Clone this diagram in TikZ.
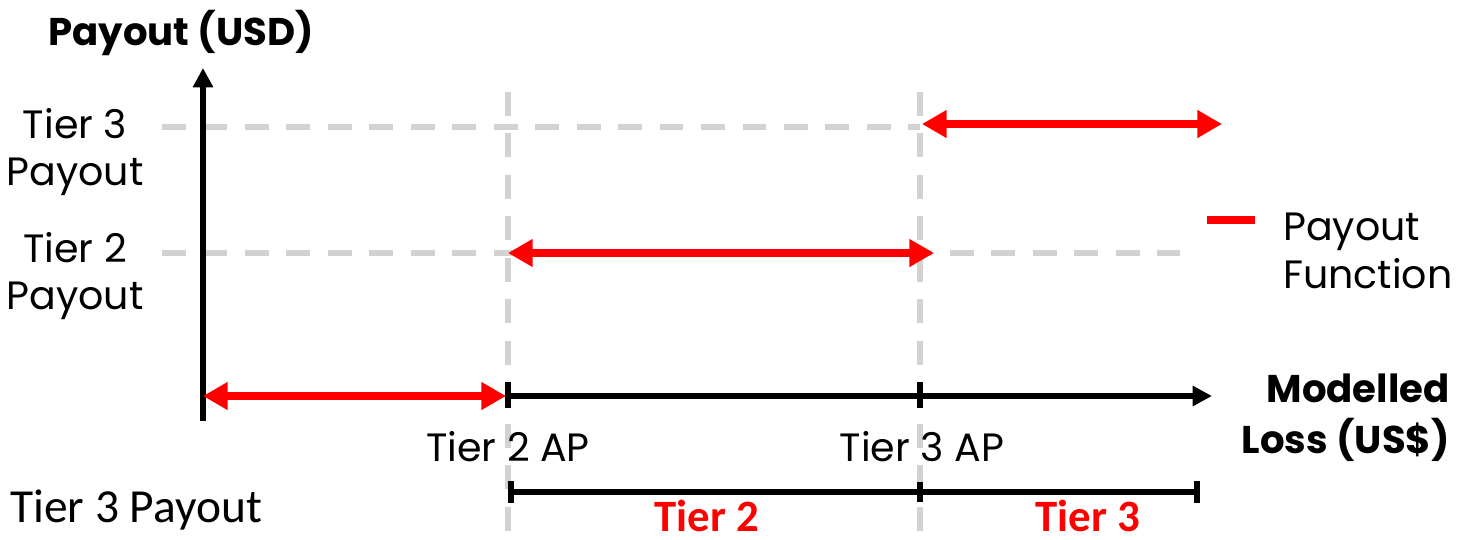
\documentclass[tikz,border=0pt]{standalone}
\usepackage{fontspec}
\setmainfont{Poppins}
\newfontfamily\calfont{Carlito}
\usetikzlibrary{arrows.meta}

\definecolor{guidegray}{RGB}{210,210,210}
\definecolor{payred}{RGB}{255,0,0}

\tikzset{
  guide/.style={guidegray, line width=3.4pt, dash pattern=on 13.6pt off 10pt},
  axis/.style={black, line width=3.2pt, -{Triangle[length=11pt,width=11pt]}},
  payfn/.style={payred, line width=4.4pt, {Triangle[length=14pt,width=15pt]}-{Triangle[length=14pt,width=15pt]}},
  tierbar/.style={black, line width=3.2pt},
  lbl/.style={font=\fontsize{22.5}{27}\selectfont, align=center, inner sep=0pt},
  boldlbl/.style={font=\fontsize{22}{29}\selectfont\bfseries, inner sep=0pt},
  tierlbl/.style={font=\calfont\fontsize{25.5}{30}\selectfont\bfseries, text=payred, inner sep=0pt}
}

\begin{document}
\begin{tikzpicture}[x=0.02cm, y=-0.02cm]
\useasboundingbox (0,0) rectangle (1468,539);

% axes
\coordinate (O)    at (203,396) ;
\coordinate (ytop) at (203,68) ;
\coordinate (ybot) at (203,421) ;
\coordinate (ap2)  at (508,396) ;
\coordinate (ap3)  at (920,396) ;
\coordinate (xend) at (1212,396) ;

% guides
\coordinate (g3l) at (162,127) ;  \coordinate (g3r) at (920,127) ;
\coordinate (g2l) at (162,253) ;  \coordinate (g2r) at (1180,253) ;
\coordinate (v2t) at (508,92) ;   \coordinate (v2b) at (508,539) ;
\coordinate (v3t) at (920,92) ;   \coordinate (v3b) at (920,539) ;

\draw [guide] (g3l) -- (g3r) ;
\draw [guide] (g2l) -- (g2r) ;
\draw [guide] (v2t) -- (v2b) ;
\draw [guide] (v3t) -- (v3b) ;

\draw [axis] (ybot) -- (ytop) ;
\draw [axis] (ap2) -- (xend) ;
\draw [tierbar] (ap2) +(0,-14) -- +(0,12) ;
\draw [tierbar] (ap3) +(0,-14) -- +(0,12) ;

% payout function
\coordinate (p1l) at (203,396) ;  \coordinate (p1r) at (506,396) ;
\coordinate (p2l) at (508,253) ;  \coordinate (p2r) at (934,253) ;
\coordinate (p3l) at (922,124) ;  \coordinate (p3r) at (1222,124) ;
\draw [payfn] (p1l) -- (p1r) ;
\draw [payfn] (p2l) -- (p2r) ;
\draw [payfn] (p3l) -- (p3r) ;

% legend
\coordinate (legl) at (1207,220) ;  \coordinate (legr) at (1255,220) ;
\draw [payred, line width=4pt] (legl) -- (legr) ;
\node [lbl, align=left, anchor=north west] (legtxt) at (1283,213) {Payout\\Function} ;

% labels
\node [boldlbl] (ytitle) at (181,33) {Payout (USD)} ;
\node [lbl] (t3pay) at (75,152) {Tier 3\\Payout} ;
\node [lbl] (t2pay) at (75,276) {Tier 2\\Payout} ;
\node [lbl] (t2ap) at (508,447) {Tier 2 AP} ;
\node [lbl] (t3ap) at (922,447) {Tier 3 AP} ;
\node [boldlbl, align=right, anchor=east] (xtitle) at (1450,418) {Modelled\\Loss (US\$)} ;

% tier ranges
\node [font=\calfont\fontsize{27}{32}\selectfont, anchor=west, inner sep=0pt] (t3row) at (10,510) {Tier 3 Payout} ;
\coordinate (b2) at (508,492) ;  \coordinate (b3) at (920,492) ;  \coordinate (bend) at (1200,492) ;
\draw [tierbar, {Bar[width=12pt]}-{Bar[width=12pt]}] (b2) -- (bend) ;
\draw [tierbar] (b3) +(0,-10) -- +(0,10) ;
\node [tierlbl] (tier2) at (707,516) {Tier 2} ;
\node [tierlbl] (tier3) at (1088,516) {Tier 3} ;

\end{tikzpicture}
\end{document}
